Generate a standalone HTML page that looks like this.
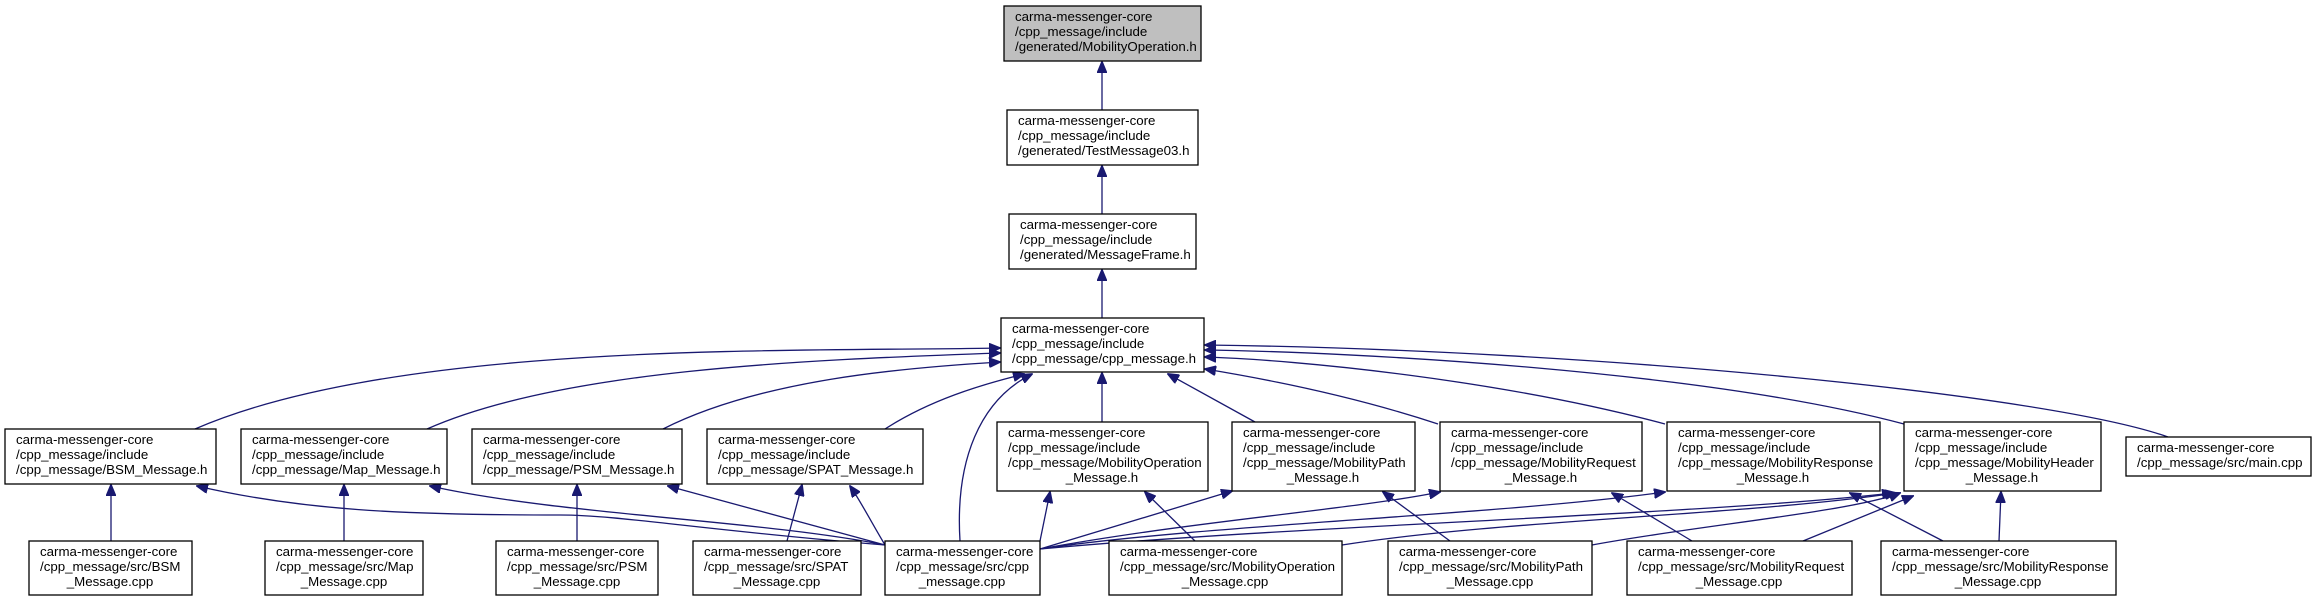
<!DOCTYPE html>
<html><head><meta charset="utf-8"><style>
html,body{margin:0;padding:0;background:#fff;}
svg{display:block;}
text{font-family:"Liberation Sans",Arial,sans-serif;font-size:13.3px;fill:#000;}
.b{fill:#fff;stroke:#000;stroke-width:1.3;}
.e{fill:none;stroke:#191970;stroke-width:1.3;}
</style></head><body>
<svg width="2317" height="601" viewBox="0 0 2317 601" xmlns="http://www.w3.org/2000/svg">
<defs>
<marker id="a" markerWidth="12" markerHeight="10" refX="11" refY="5" orient="auto" markerUnits="userSpaceOnUse">
<path d="M0,0 L12,5 L0,10 Z" fill="#191970" stroke="#191970"/>
</marker>
</defs>

<g class="e" marker-end="url(#a)">
<path d="M1102,110 L1102,62"/>
<path d="M1102,214 L1102,166"/>
<path d="M1102,318 L1102,270"/>
<path d="M195,429 C400,340 800,352 1000,348"/>
<path d="M427,429 C560,370 800,360 1000,353"/>
<path d="M663,429 C760,380 900,368 1000,362"/>
<path d="M885,429 C930,400 980,385 1024,374"/>
<path d="M960,541 C955,460 980,400 1032,374"/>
<path d="M1102,422 L1102,373"/>
<path d="M1255,422 L1168,374"/>
<path d="M1438,424 C1350,395 1260,378 1205,369"/>
<path d="M1665,424 C1500,380 1300,360 1205,357"/>
<path d="M1904,424 C1700,370 1350,352 1205,350"/>
<path d="M2168,437 C2050,395 1600,350 1205,345"/>

<path d="M111,541 L111,485"/>
<path d="M344,541 L344,485"/>
<path d="M577,541 L577,485"/>
<path d="M787,541 L802,485"/>
<path d="M885,545 C700,530 620,515 560,515 C400,515 300,510 197,486"/>
<path d="M885,545 C760,520 560,515 430,486"/>
<path d="M885,545 L668,486"/>
<path d="M885,545 C870,520 860,500 850,486"/>
<path d="M1040,541 L1050,492"/>
<path d="M1040,549 L1232,491"/>
<path d="M1040,549 C1200,520 1350,510 1440,492"/>
<path d="M1040,549 C1200,525 1500,515 1665,492"/>
<path d="M1040,549 C1300,525 1700,515 1893,493"/>
<path d="M1195,541 L1145,492"/>
<path d="M1342,545 C1500,520 1750,515 1896,493"/>
<path d="M1450,541 L1383,492"/>
<path d="M1592,545 C1700,525 1850,512 1900,493"/>
<path d="M1692,541 L1612,493"/>
<path d="M1803,541 L1913,496"/>
<path d="M1943,541 L1850,493"/>
<path d="M1999,541 L2001,492"/>
</g>

<rect x="1004" y="6" width="197" height="55" fill="#bfbfbf" stroke="#000" stroke-width="1.3"/>
<text x="1015" y="21">carma-messenger-core</text><text x="1015" y="36">/cpp_message/include</text><text x="1015" y="51">/generated/MobilityOperation.h</text>

<rect class="b" x="1007" y="110" width="191" height="55"/>
<text x="1018" y="125">carma-messenger-core</text><text x="1018" y="140">/cpp_message/include</text><text x="1018" y="155">/generated/TestMessage03.h</text>

<rect class="b" x="1009" y="214" width="187" height="55"/>
<text x="1020" y="229">carma-messenger-core</text><text x="1020" y="244">/cpp_message/include</text><text x="1020" y="259">/generated/MessageFrame.h</text>

<rect class="b" x="1001" y="318" width="203" height="54"/>
<text x="1012" y="333">carma-messenger-core</text><text x="1012" y="348">/cpp_message/include</text><text x="1012" y="363">/cpp_message/cpp_message.h</text>

<rect class="b" x="5" y="429" width="211" height="55"/>
<text x="16" y="444">carma-messenger-core</text><text x="16" y="459">/cpp_message/include</text><text x="16" y="474">/cpp_message/BSM_Message.h</text>

<rect class="b" x="241" y="429" width="206" height="55"/>
<text x="252" y="444">carma-messenger-core</text><text x="252" y="459">/cpp_message/include</text><text x="252" y="474">/cpp_message/Map_Message.h</text>

<rect class="b" x="472" y="429" width="210" height="55"/>
<text x="483" y="444">carma-messenger-core</text><text x="483" y="459">/cpp_message/include</text><text x="483" y="474">/cpp_message/PSM_Message.h</text>

<rect class="b" x="707" y="429" width="216" height="55"/>
<text x="718" y="444">carma-messenger-core</text><text x="718" y="459">/cpp_message/include</text><text x="718" y="474">/cpp_message/SPAT_Message.h</text>

<rect class="b" x="997" y="422" width="211" height="69"/>
<text x="1008" y="437">carma-messenger-core</text><text x="1008" y="452">/cpp_message/include</text><text x="1008" y="467">/cpp_message/MobilityOperation</text><text x="1102" y="482" text-anchor="middle">_Message.h</text>

<rect class="b" x="1232" y="422" width="183" height="69"/>
<text x="1243" y="437">carma-messenger-core</text><text x="1243" y="452">/cpp_message/include</text><text x="1243" y="467">/cpp_message/MobilityPath</text><text x="1323" y="482" text-anchor="middle">_Message.h</text>

<rect class="b" x="1440" y="422" width="202" height="69"/>
<text x="1451" y="437">carma-messenger-core</text><text x="1451" y="452">/cpp_message/include</text><text x="1451" y="467">/cpp_message/MobilityRequest</text><text x="1541" y="482" text-anchor="middle">_Message.h</text>

<rect class="b" x="1667" y="422" width="213" height="69"/>
<text x="1678" y="437">carma-messenger-core</text><text x="1678" y="452">/cpp_message/include</text><text x="1678" y="467">/cpp_message/MobilityResponse</text><text x="1773" y="482" text-anchor="middle">_Message.h</text>

<rect class="b" x="1904" y="422" width="197" height="69"/>
<text x="1915" y="437">carma-messenger-core</text><text x="1915" y="452">/cpp_message/include</text><text x="1915" y="467">/cpp_message/MobilityHeader</text><text x="2002" y="482" text-anchor="middle">_Message.h</text>

<rect class="b" x="2126" y="437" width="185" height="39"/>
<text x="2137" y="452">carma-messenger-core</text><text x="2137" y="467">/cpp_message/src/main.cpp</text>

<rect class="b" x="29" y="541" width="163" height="54"/>
<text x="40" y="556">carma-messenger-core</text><text x="40" y="571">/cpp_message/src/BSM</text><text x="110" y="586" text-anchor="middle">_Message.cpp</text>

<rect class="b" x="265" y="541" width="158" height="54"/>
<text x="276" y="556">carma-messenger-core</text><text x="276" y="571">/cpp_message/src/Map</text><text x="344" y="586" text-anchor="middle">_Message.cpp</text>

<rect class="b" x="496" y="541" width="162" height="54"/>
<text x="507" y="556">carma-messenger-core</text><text x="507" y="571">/cpp_message/src/PSM</text><text x="577" y="586" text-anchor="middle">_Message.cpp</text>

<rect class="b" x="693" y="541" width="168" height="54"/>
<text x="704" y="556">carma-messenger-core</text><text x="704" y="571">/cpp_message/src/SPAT</text><text x="777" y="586" text-anchor="middle">_Message.cpp</text>

<rect class="b" x="885" y="541" width="155" height="54"/>
<text x="896" y="556">carma-messenger-core</text><text x="896" y="571">/cpp_message/src/cpp</text><text x="962" y="586" text-anchor="middle">_message.cpp</text>

<rect class="b" x="1109" y="541" width="233" height="54"/>
<text x="1120" y="556">carma-messenger-core</text><text x="1120" y="571">/cpp_message/src/MobilityOperation</text><text x="1225" y="586" text-anchor="middle">_Message.cpp</text>

<rect class="b" x="1388" y="541" width="204" height="54"/>
<text x="1399" y="556">carma-messenger-core</text><text x="1399" y="571">/cpp_message/src/MobilityPath</text><text x="1490" y="586" text-anchor="middle">_Message.cpp</text>

<rect class="b" x="1627" y="541" width="225" height="54"/>
<text x="1638" y="556">carma-messenger-core</text><text x="1638" y="571">/cpp_message/src/MobilityRequest</text><text x="1739" y="586" text-anchor="middle">_Message.cpp</text>

<rect class="b" x="1881" y="541" width="235" height="54"/>
<text x="1892" y="556">carma-messenger-core</text><text x="1892" y="571">/cpp_message/src/MobilityResponse</text><text x="1998" y="586" text-anchor="middle">_Message.cpp</text>
</svg>
</body></html>
